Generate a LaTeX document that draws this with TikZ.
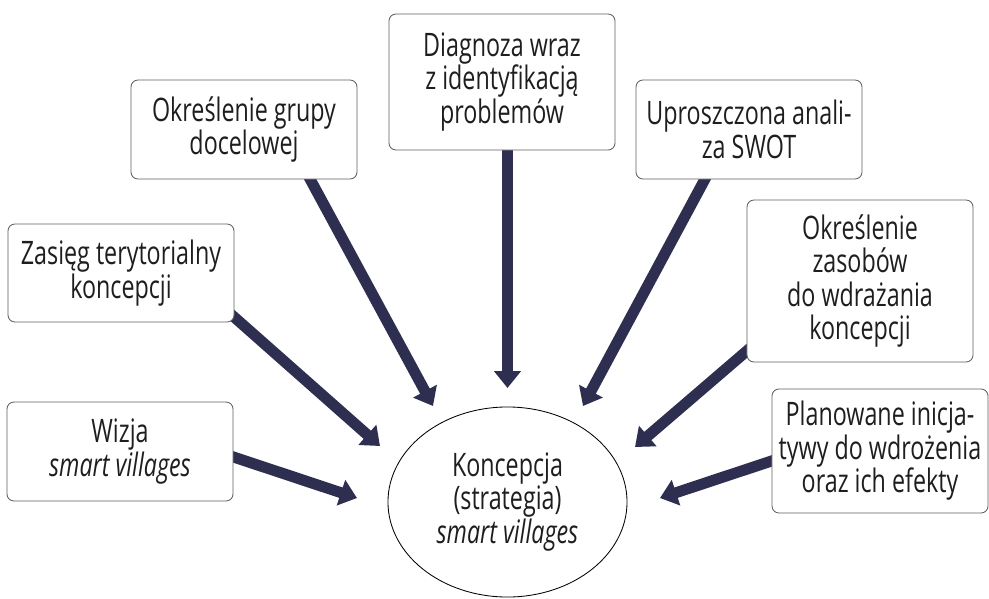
\documentclass[tikz,border=0pt]{standalone}
\usepackage{fontspec}
\setmainfont{Open Sans}[FakeStretch=0.72]
\usetikzlibrary{arrows.meta,calc,shapes.geometric,backgrounds}
\definecolor{arrnavy}{RGB}{46,47,80}
\definecolor{boxgray}{RGB}{95,95,95}
\definecolor{txtgray}{RGB}{30,30,30}

\begin{document}
\begin{tikzpicture}[
  x=0.025cm, y=-0.025cm,
  font=\fontsize{23}{23.8}\selectfont,
  box/.style={draw=boxgray, line width=0.6pt, fill=white, rounded corners=5pt,
              align=center, inner sep=2pt, text=txtgray, minimum width=5.65cm},
  core/.style={draw=black, line width=0.6pt, ellipse, fill=white, align=center,
               inner sep=0pt, text=txtgray, minimum width=5.975cm, minimum height=4.75cm},
  arr/.style={-{Triangle[length=12pt,width=18.5pt]}, line width=7.8pt, draw=arrnavy},
]
\useasboundingbox (0,0) rectangle (989,599);

% ---- boxes ----
\node[box, minimum height=3.4cm]   (diag)   at (502,82)    {Diagnoza wraz\\z identyfikacją\\problemów};
\node[box, minimum height=2.475cm] (grupa)  at (244,129.5) {Określenie grupy\\docelowej};
\node[box, minimum height=2.475cm] (swot)   at (749,129.5) {Uproszczona anali-\\za SWOT};
\node[box, minimum height=2.45cm]  (zasieg) at (121,273)   {Zasięg terytorialny\\koncepcji};
\node[box, minimum height=2.475cm] (wizja)  at (120,451.5) {Wizja\\\textit{smart villages}};
\node[box, minimum height=4.05cm]  (zasoby) at (860,281)   {Określenie\\zasobów\\do wdrażania\\koncepcji};
\node[box, minimum height=3.1cm, minimum width=5.4cm] (plan) at (880,451) {Planowane inicja-\\tywy do wdrożenia\\oraz ich efekty};

% ---- centre ----
\node[core] (konc) at (507.5,502) {Koncepcja\\(strategia)\\\textit{smart villages}};

% ---- arrow tips ----
\coordinate (tdiag)   at (507.5,388);
\coordinate (tgrupa)  at (433,406);
\coordinate (tswot)   at (583,406);
\coordinate (tzasieg) at (380,446);
\coordinate (twizja)  at (357,498);
\coordinate (tzasoby) at (635,447);
\coordinate (tplan)   at (660,498);

% ---- arrows ----
\begin{scope}[on background layer]
\draw[arr] ($(diag.south)+(5.5,-6)$)  -- (tdiag);
\draw[arr] ($(grupa.south)+(63,-6)$)  -- (tgrupa);
\draw[arr] ($(swot.south)+(-41,-6)$)  -- (tswot);
\draw[arr] ($(zasieg.east)+(-6,39)$)  -- (tzasieg);
\draw[arr] ($(wizja.east)+(-6,3.5)$)  -- (twizja);
\draw[arr] ($(zasoby.west)+(6,65)$)   -- (tzasoby);
\draw[arr] ($(plan.west)+(6,8)$)      -- (tplan);
\end{scope}
\end{tikzpicture}
\end{document}
